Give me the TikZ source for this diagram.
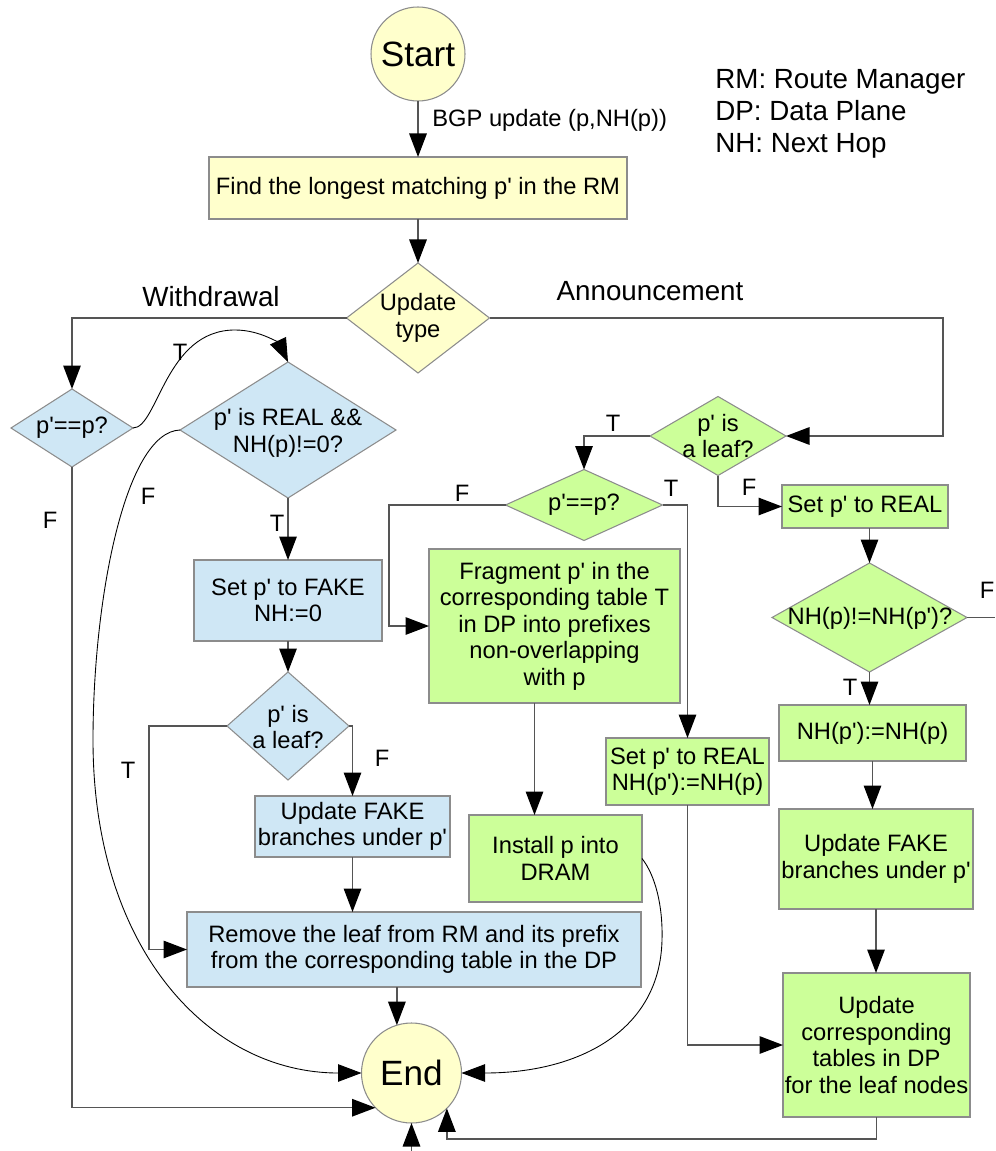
\documentclass[tikz,border=0pt]{standalone}
\usepackage{fontspec}
\setmainfont{Liberation Sans}
\usetikzlibrary{shapes.geometric,arrows.meta,calc}
\definecolor{fillY}{HTML}{FFFFCC}
\definecolor{fillB}{HTML}{CFE7F5}
\definecolor{fillG}{HTML}{CCFF99}
\definecolor{edgeG}{HTML}{8C8C8C}
\definecolor{wire}{HTML}{555555}
\newcommand\prm{\textquotesingle}

\begin{document}
\begin{tikzpicture}[x=0.02cm,y=-0.02cm,
  sz/.style 2 args={minimum width={#1*0.02cm},minimum height={#2*0.02cm}},
  body/.style={font=\fontsize{13.5}{15.1}\selectfont},
  big/.style={font=\fontsize{15.8}{18.1}\selectfont},
  box/.style={draw=edgeG, line width=0.6pt, inner sep=0pt, outer sep=0pt, align=center, body},
  ybox/.style={box, fill=fillY},
  bbox/.style={box, fill=fillB},
  gbox/.style={box, fill=fillG},
  dia/.style={diamond, draw=edgeG, line width=0.6pt, inner sep=0pt, outer sep=0pt},
  term/.style={circle, draw=edgeG, line width=0.6pt, fill=fillY, inner sep=0pt, outer sep=0pt, font=\fontsize{20}{24}\selectfont},
  tip/.tip={Triangle[length=0.47cm,width=0.35cm,color=black]},
  flow/.style={draw=wire, line width=0.8pt, -tip},
  wireonly/.style={draw=wire, line width=0.8pt},
  curvy/.style={draw=black, line width=0.5pt, -tip},
  lbl/.style={body, inner sep=0pt, align=center}
]
\fill[white] (0,0) rectangle (995,1151);
\useasboundingbox (0,0) rectangle (995,1151);

% terminals
\node[term, minimum size={94*0.02cm}] (start) at (418,54) {Start};
\node[term, minimum size={100*0.02cm}] (end) at (411.5,1073) {End};

% legend and branch titles
\node[big, align=left, anchor=west, inner sep=0pt] (legend) at (715,114) {RM: Route Manager\\DP: Data Plane\\NH: Next Hop};
\node[lbl, anchor=west] (bgp) at (432,120) {BGP update (p,NH(p))};
\node[big, inner sep=0pt] (wd) at (211,297) {Withdrawal};
\node[big, inner sep=0pt] (an) at (650,291) {Announcement};

% common part
\node[ybox, sz={418}{62}] (find) at (418,188) {Find the longest matching p\prm{} in the RM};
\node[dia, fill=fillY, sz={143}{110}] (UT) at (418,318) {};
\node[lbl] (UTt) at (418,318) {Update\\type};

% withdrawal branch
\node[dia, fill=fillB, sz={122}{78}] (peq1) at (72,428) {};
\node[lbl] (peq1t) at (72,428) {p\prm==p?};
\node[dia, fill=fillB, sz={216}{136}] (bigD) at (288,430) {};
\node[lbl] (bigDt) at (288,433) {p\prm{} is REAL \&\&\\NH(p)!=0?};
\node[bbox, sz={188}{81}] (fake) at (288,600.5) {Set p\prm{} to FAKE\\NH:=0};
\node[dia, fill=fillB, sz={122}{108}] (leafB) at (288,726) {};
\node[lbl] (leafBt) at (288,727) {p\prm{} is\\a leaf?};
\node[bbox, sz={195}{61}] (upd1) at (352.5,826.5) {Update FAKE\\branches under p\prm};
\node[bbox, sz={454}{75}] (remove) at (414,949.5) {Remove the leaf from RM and its prefix\\from the corresponding table in the DP};

% announcement branch
\node[dia, fill=fillG, sz={136}{79}] (leafG) at (718,436) {};
\node[lbl] (leafGt) at (718,436) {p\prm{} is\\a leaf?};
\node[dia, fill=fillG, sz={157}{71}] (peq2) at (584,505) {};
\node[lbl] (peq2t) at (584,505) {p\prm==p?};
\node[gbox, sz={251}{154}] (frag) at (554.5,626) {Fragment p\prm{} in the\\corresponding table T\\in DP into prefixes\\non-overlapping\\with p};
\node[gbox, sz={173}{87}] (install) at (555.5,858.5) {Install p into\\DRAM};
\node[gbox, sz={163}{67}] (setR2) at (687.5,771.5) {Set p\prm{} to REAL\\NH(p\prm):=NH(p)};
\node[gbox, sz={166}{43}] (setR) at (865,506.5) {Set p\prm{} to REAL};
\node[dia, fill=fillG, sz={195}{109}] (nhD) at (869.5,617.5) {};
\node[lbl] (nhDt) at (870,618) {NH(p)!=NH(p\prm)?};
\node[gbox, sz={187}{56}] (nhset) at (872.5,733) {NH(p\prm):=NH(p)};
\node[gbox, sz={194}{100}] (upd2) at (876,859) {Update FAKE\\branches under p\prm};
\node[gbox, sz={187}{144}] (updC) at (876.5,1045) {Update\\corresponding\\tables in DP\\for the leaf nodes};

% branch labels
\node[lbl] (tA) at (180,352) {T};
\node[lbl] (fA) at (148,496) {F};
\node[lbl] (fB) at (50,520) {F};
\node[lbl] (tB) at (277,523) {T};
\node[lbl] (tC) at (128,770) {T};
\node[lbl] (fC) at (382,758) {F};
\node[lbl] (tD) at (613,423) {T};
\node[lbl] (fD) at (749,487) {F};
\node[lbl] (fE) at (462,493) {F};
\node[lbl] (tE) at (671,488) {T};
\node[lbl] (fF) at (987,590) {F};
\node[lbl] (tF) at (850,687) {T};

% helper corners and free ends
\coordinate (annR) at (943,318);
\coordinate (tl) at (149,726);
\coordinate (fl) at (389,505);
\coordinate (nhOut) at (995,617.5);
\coordinate (bot) at (411.5,1151);

% connectors: common part
\draw[flow] (start) -- (find);
\draw[flow] (find) -- (UT);
\draw[flow] (UT.west) -| (peq1.north);
\draw[flow] (UT.east) -- (annR) |- (leafG.east);

% connectors: withdrawal
\draw[curvy] (peq1.east) .. controls (158,428) and (165,330) .. (235,330)
  .. controls (262,330) and (280,345) .. (bigD.north);
\draw[curvy] (bigD.west) .. controls (125,432) and (93,600) .. (93,740)
  .. controls (93,950) and (210,1073) .. (end.west);
\draw[flow] (peq1.south) |- (end.224);
\draw[flow] (bigD.south) -- (fake.north);
\draw[flow] (fake.south) -- (leafB.north);
\draw[flow] (leafB.west) -- (tl) |- (remove.west);
\draw[flow] (leafB.east) -| (upd1.north);
\draw[flow] (upd1.south) -- (upd1.south |- remove.north);
\draw[flow] (remove.south -| end.107) -- (end.107);
\draw[flow] (bot) -- (end.south);

% connectors: announcement
\draw[flow] (leafG.west) -| (peq2.north);
\draw[flow] (leafG.south) |- (setR.west);
\draw[flow] (setR.south -| nhD.north) -- (nhD.north);
\draw[wireonly] (nhD.east) -- (nhOut);
\draw[flow] (nhD.south) -- (nhD.south |- nhset.north);
\draw[flow] (nhset.south) -- (nhset.south |- upd2.north);
\draw[flow] (upd2.south) -- (upd2.south |- updC.north);
\draw[flow] (peq2.west) -- (fl) |- (frag.west);
\draw[flow] (peq2.east) -| (setR2.north);
\draw[flow] ($(frag.south)+(-20,0)$) -- ($(install.north)+(-21,0)$);
\draw[flow] (setR2.south) |- (updC.west);
\draw[curvy] (install.east) .. controls (655,875) and (663,905) .. (662,940)
  .. controls (660,1030) and (580,1073) .. (end.east);
\draw[flow] (updC.south) -- ++(0,22) -| (end.-45);
\end{tikzpicture}
\end{document}
